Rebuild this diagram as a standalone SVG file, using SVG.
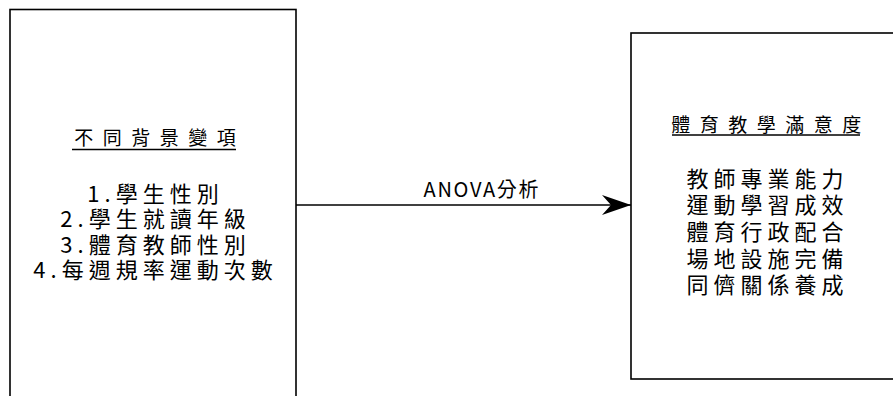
<svg xmlns="http://www.w3.org/2000/svg" width="893" height="396" viewBox="0 0 893 396">
<style>
.box{fill:#fff;stroke:#000;stroke-width:1.6}
.t{font-family:"Noto Sans CJK TC","Noto Sans CJK SC",sans-serif;fill:#000}
.title{font-size:19px;letter-spacing:9.5px;text-anchor:middle}
.item{font-size:22px;letter-spacing:5px;text-anchor:middle}
.ul{stroke:#000;stroke-width:1.5}
.conn{stroke:#000;stroke-width:1.6;fill:none}
</style>
<defs>
<marker id="arr" markerUnits="userSpaceOnUse" markerWidth="30" markerHeight="22" refX="30" refY="11" orient="auto" viewBox="0 0 30 22">
<path d="M30,11 L1,1 L10,11 L1,21 Z" fill="#000"/>
</marker>
</defs>
<rect width="893" height="396" fill="#fff"/>
<g id="connectors">
<line class="conn" x1="296" y1="205" x2="631" y2="205" marker-end="url(#arr)"/>
<text class="t" x="481" y="197" font-size="20" text-anchor="middle" textLength="115" lengthAdjust="spacing">ANOVA分析</text>
</g>
<g id="node-background">
<rect class="box" x="10" y="9.5" width="286" height="400"/>
<text class="t title" x="159.8" y="145">不同背景變項</text>
<line class="ul" x1="72" y1="149.5" x2="236" y2="149.5"/>
<text class="t item" x="155.5" y="201.5">1.學生性別</text>
<text class="t item" x="155.5" y="227">2.學生就讀年級</text>
<text class="t item" x="155.5" y="252.5">3.體育教師性別</text>
<text class="t item" x="155.5" y="278">4.每週規率運動次數</text>
</g>
<g id="node-satisfaction">
<rect class="box" x="631" y="33" width="280" height="346"/>
<text class="t title" x="771" y="131.5">體育教學滿意度</text>
<line class="ul" x1="672" y1="135" x2="860" y2="135"/>
<text class="t item" x="767.5" y="186.5">教師專業能力</text>
<text class="t item" x="767.5" y="213">運動學習成效</text>
<text class="t item" x="767.5" y="240">體育行政配合</text>
<text class="t item" x="767.5" y="266.5">場地設施完備</text>
<text class="t item" x="767.5" y="293">同儕關係養成</text>
</g>
</svg>
